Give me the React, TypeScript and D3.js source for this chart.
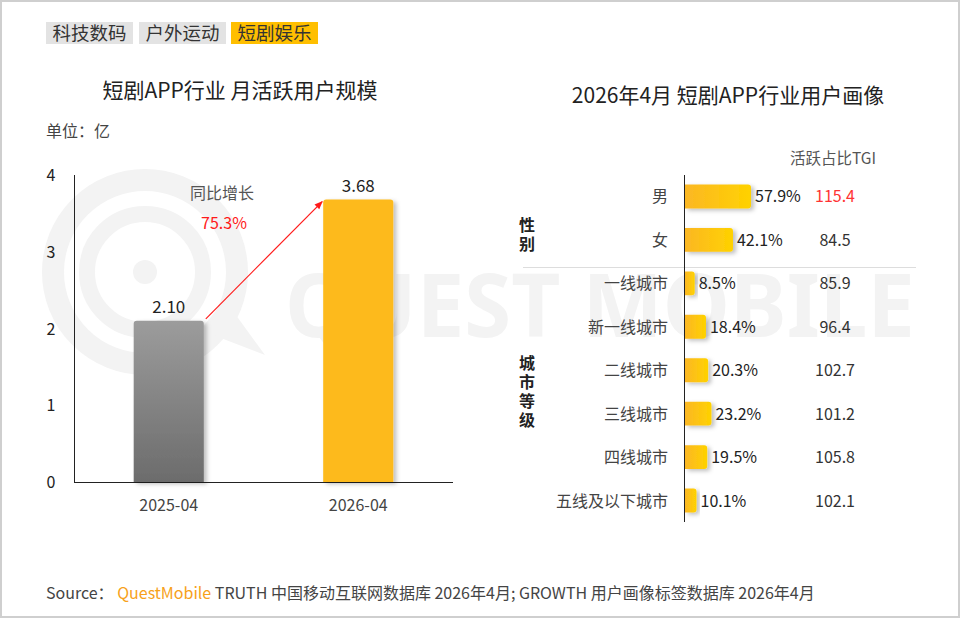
import React from 'react';
import * as d3 from 'd3';

// left chart: MAU (亿)
const months = ['2025-04', '2026-04'];
const mau = [2.10, 3.68];
const yTicks = [0, 1, 2, 3, 4];
const growthLabel = '同比增长';
const growthValue = '75.3%';

// right chart: user profile
const profileCats = ['男', '女', '一线城市', '新一线城市', '二线城市', '三线城市', '四线城市', '五线及以下城市'];
const profileShare = [57.9, 42.1, 8.5, 18.4, 20.3, 23.2, 19.5, 10.1];
const profileTgi = [115.4, 84.5, 85.9, 96.4, 102.7, 101.2, 105.8, 102.1];
const groups = [
  { name: '性别', from: 0, to: 1, shift: 17 },
  { name: '城市等级', from: 2, to: 7, shift: 0 }
];

const tabs = ['科技数码', '户外运动', '短剧娱乐'];

const FONT = '"Noto Sans CJK SC", "Microsoft YaHei", sans-serif';

const App: React.FC = () => {
  const width = 960;
  const height = 618;

  // left chart scales
  const lx = d3.scaleBand().domain(months).range([74, 453]).paddingInner(0.63).paddingOuter(0.315);
  const ly = d3.scaleLinear().domain([0, 4]).range([482, 175]);

  // right chart scales
  const ry = d3.scaleBand().domain(profileCats).range([175, 522]).paddingInner(0.45).paddingOuter(0.22);
  const rx = d3.scaleLinear().domain([0, 100]).range([685, 799]);

  const b1 = { x: (lx(months[0]) || 0) + lx.bandwidth(), y: ly(mau[0]) };
  const b2 = { x: lx(months[1]) || 0, y: ly(mau[1]) };

  const tabX = [46, 139, 231];

  return (
    <div>
      <style>{'body{margin:0}'}</style>
      <svg width={width} height={height} style={{ display: 'block', fontFamily: FONT }}>
        <defs>
          <linearGradient id="grayGrad" x1="0" y1="0" x2="0" y2="1">
            <stop offset="0%" stopColor="#9c9c9c" />
            <stop offset="100%" stopColor="#6c6c6c" />
          </linearGradient>
          <linearGradient id="yellowGrad" x1="0" y1="0" x2="1" y2="0">
            <stop offset="0%" stopColor="#FBB724" />
            <stop offset="100%" stopColor="#FFD200" />
          </linearGradient>
          <filter id="shadow" x="-20%" y="-20%" width="150%" height="150%">
            <feDropShadow dx="3" dy="2" stdDeviation="2" floodColor="#000" floodOpacity="0.25" />
          </filter>
          <marker id="arrow" viewBox="0 0 10 10" refX="9" refY="5" markerWidth="7" markerHeight="7" orient="auto">
            <path d="M0,1 L10,5 L0,9 z" fill="#FF1A1A" />
          </marker>
        </defs>

        <rect x={1} y={1} width={width - 2} height={height - 2} fill="#fff" stroke="#cfcfcf" strokeWidth={2} />

        {/* watermark */}
        <g fill="none" stroke="#f3f3f3">
          <circle cx={145} cy={272} r={92} strokeWidth={22} />
          <circle cx={145} cy={272} r={58} strokeWidth={16} />
        </g>
        <circle cx={145} cy={272} r={12} fill="#f3f3f3" />
        <path d="M200,330 L225,300 L265,355 Z" fill="#f3f3f3" />
        <text x={285} y={337} fontSize={88} fontWeight="bold" fill="#f3f3f3" textLength={630} lengthAdjust="spacingAndGlyphs"
          style={{ fontFamily: '"Noto Sans", sans-serif' }}>QUEST MOBILE</text>

        {/* tabs */}
        {tabs.map((t, i) => (
          <g key={t}>
            <rect x={tabX[i]} y={22} width={87} height={22} fill={i === 2 ? '#FFBF00' : '#E3E3E3'} />
            <text x={tabX[i] + 43.5} y={40} fontSize={18.5} textAnchor="middle" fill="#333">{t}</text>
          </g>
        ))}

        {/* left chart */}
        <text x={240} y={98} fontSize={21} textAnchor="middle" fill="#222">短剧APP行业 月活跃用户规模</text>
        <text x={46} y={137} fontSize={16} fill="#444">单位：亿</text>

        {yTicks.map(t => (
          <text key={t} x={51} y={ly(t) + 6} fontSize={16} textAnchor="middle" fill="#222">{t}</text>
        ))}
        <line x1={74.5} y1={175} x2={74.5} y2={483} stroke="#222" />
        <line x1={74} y1={482.5} x2={453} y2={482.5} stroke="#222" />

        {months.map((m, i) => {
          const x = lx(m) || 0;
          const y = ly(mau[i]);
          const w = lx.bandwidth();
          const h = ly(0) - y;
          const r = 3;
          const d = `M${x},${y + h} L${x},${y + r} Q${x},${y} ${x + r},${y} L${x + w - r},${y} Q${x + w},${y} ${x + w},${y + r} L${x + w},${y + h} Z`;
          return (
            <g key={m}>
              <path d={d} fill={i === 0 ? 'url(#grayGrad)' : '#FDBA1D'} filter="url(#shadow)" />
              <text x={x + w / 2} y={y - 8} fontSize={17} textAnchor="middle" fill="#222">{mau[i].toFixed(2)}</text>
              <text x={x + w / 2} y={511} fontSize={16} textAnchor="middle" fill="#444">{m}</text>
            </g>
          );
        })}

        <text x={222} y={199} fontSize={16} textAnchor="middle" fill="#555">{growthLabel}</text>
        <text x={224} y={229} fontSize={16} textAnchor="middle" fill="#FF1A1A">{growthValue}</text>
        <line x1={b1.x + 2} y1={b1.y - 2} x2={b2.x - 1} y2={b2.y + 2} stroke="#FF1A1A" strokeWidth={1.2} markerEnd="url(#arrow)" />

        {/* right chart */}
        <text x={728} y={103} fontSize={21} textAnchor="middle" fill="#222">2026年4月 短剧APP行业用户画像</text>
        <text x={833} y={164} fontSize={15.5} textAnchor="middle" fill="#555">活跃占比TGI</text>

        <line x1={523} y1={267.5} x2={916} y2={267.5} stroke="#ddd" />
        <line x1={684.5} y1={175} x2={684.5} y2={522} stroke="#222" />

        {profileCats.map((c, i) => {
          const y = ry(c) || 0;
          const h = ry.bandwidth();
          const x1 = rx(profileShare[i]);
          const w = x1 - rx(0);
          const r = 3;
          const x = rx(0);
          const d = `M${x},${y} L${x + w - r},${y} Q${x + w},${y} ${x + w},${y + r} L${x + w},${y + h - r} Q${x + w},${y + h} ${x + w - r},${y + h} L${x},${y + h} Z`;
          const cy = y + h / 2;
          return (
            <g key={c}>
              <path d={d} fill="url(#yellowGrad)" filter="url(#shadow)" />
              <text x={668} y={cy + 6} fontSize={16} textAnchor="end" fill="#444">{c}</text>
              <text x={x1 + 4} y={cy + 6} fontSize={16} fill="#222">{profileShare[i].toFixed(1)}%</text>
              <text x={835} y={cy + 6} fontSize={16} textAnchor="middle" fill={profileTgi[i] === 115.4 ? '#FF3333' : '#333'}>{profileTgi[i].toFixed(1)}</text>
            </g>
          );
        })}

        {groups.map(g => {
          const top = (ry(profileCats[g.from]) || 0);
          const bottom = (ry(profileCats[g.to]) || 0) + ry.bandwidth();
          const mid = (top + bottom) / 2 + g.shift;
          const chars = g.name.split('');
          const lh = 19;
          const start = mid - ((chars.length - 1) * lh) / 2 + 5.5;
          return (
            <g key={g.name}>
              {chars.map((ch, k) => (
                <text key={k} x={527} y={start + k * lh} fontSize={16} fontWeight="bold" textAnchor="middle" fill="#222">{ch}</text>
              ))}
            </g>
          );
        })}

        {/* footer */}
        <text x={46} y={599} fontSize={16} fill="#444">
          Source：
          <tspan fill="#F7A11A"> QuestMobile</tspan>
          <tspan> TRUTH 中国移动互联网数据库 2026年4月; GROWTH 用户画像标签数据库 2026年4月</tspan>
        </text>
      </svg>
    </div>
  );
};

export default App;
